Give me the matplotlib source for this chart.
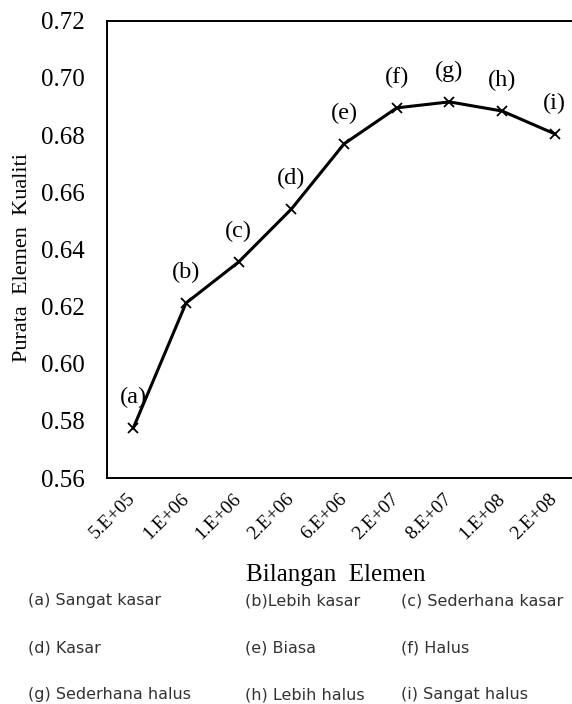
import matplotlib.pyplot as plt

# mesh sizes (number of elements) and mean element quality
bilangan = ['5.E+05', '1.E+06', '1.E+06', '2.E+06', '6.E+06',
            '2.E+07', '8.E+07', '1.E+08', '2.E+08']
kualiti = [0.5775, 0.6212, 0.6356, 0.6541, 0.6769,
           0.6895, 0.6916, 0.6884, 0.6804]
huruf = ['(a)', '(b)', '(c)', '(d)', '(e)', '(f)', '(g)', '(h)', '(i)']

keterangan = [
    ['(a) Sangat kasar', '(b)Lebih kasar', '(c) Sederhana kasar'],
    ['(d) Kasar', '(e) Biasa', '(f) Halus'],
    ['(g) Sederhana halus', '(h) Lebih halus', '(i) Sangat halus'],
]

serif = ['Liberation Serif', 'DejaVu Serif']

fig = plt.figure(figsize=(5.72, 7.04), dpi=100)
ax = fig.add_axes([0.187, 0.321, 0.829, 0.6496])

x = list(range(len(bilangan)))
ax.plot(x, kualiti, color='black', lw=2.2, marker='x', ms=7, mew=1.3)

for xi, yi, h in zip(x, kualiti, huruf):
    ax.annotate(h, (xi, yi), xytext=(0, 22), textcoords='offset points',
                ha='center', va='center', fontsize=17.5, family=serif)

ax.set_xlim(-0.5, len(bilangan) - 0.5)
ax.set_ylim(0.56, 0.72)
ax.set_yticks([0.56, 0.58, 0.60, 0.62, 0.64, 0.66, 0.68, 0.70, 0.72])
ax.set_yticklabels([f'{v:.2f}' for v in ax.get_yticks()], family=serif, fontsize=18)
ax.set_xticks(x)
ax.set_xticklabels(bilangan, family=serif, fontsize=14, rotation=45,
                   ha='right', va='center', rotation_mode='anchor')
ax.tick_params(axis='y', length=0, pad=16)
ax.tick_params(axis='x', length=0, pad=13)

for side in ['left', 'top', 'bottom']:
    ax.spines[side].set_linewidth(1.4)
    ax.spines[side].set_color('black')
ax.spines['right'].set_visible(False)

ax.set_xlabel('Bilangan  Elemen', family=serif, fontsize=18, va='top')
ax.xaxis.set_label_coords(0.483, -0.188)
ax.set_ylabel('Purata  Elemen  Kualiti', family=serif, fontsize=16, va='center')
ax.yaxis.set_label_coords(-0.179, 0.483)

# legend of mesh categories under the chart
kolum_x = [28, 245, 401]
baris_y = [601, 648, 695]
for r, baris in enumerate(keterangan):
    for c, teks in enumerate(baris):
        fig.text(kolum_x[c] / 572, 1 - baris_y[r] / 704, teks,
                 ha='left', va='center', fontsize=11.5, color='#333333',
                 family='DejaVu Sans')

fig.savefig('out.png', dpi=100)
